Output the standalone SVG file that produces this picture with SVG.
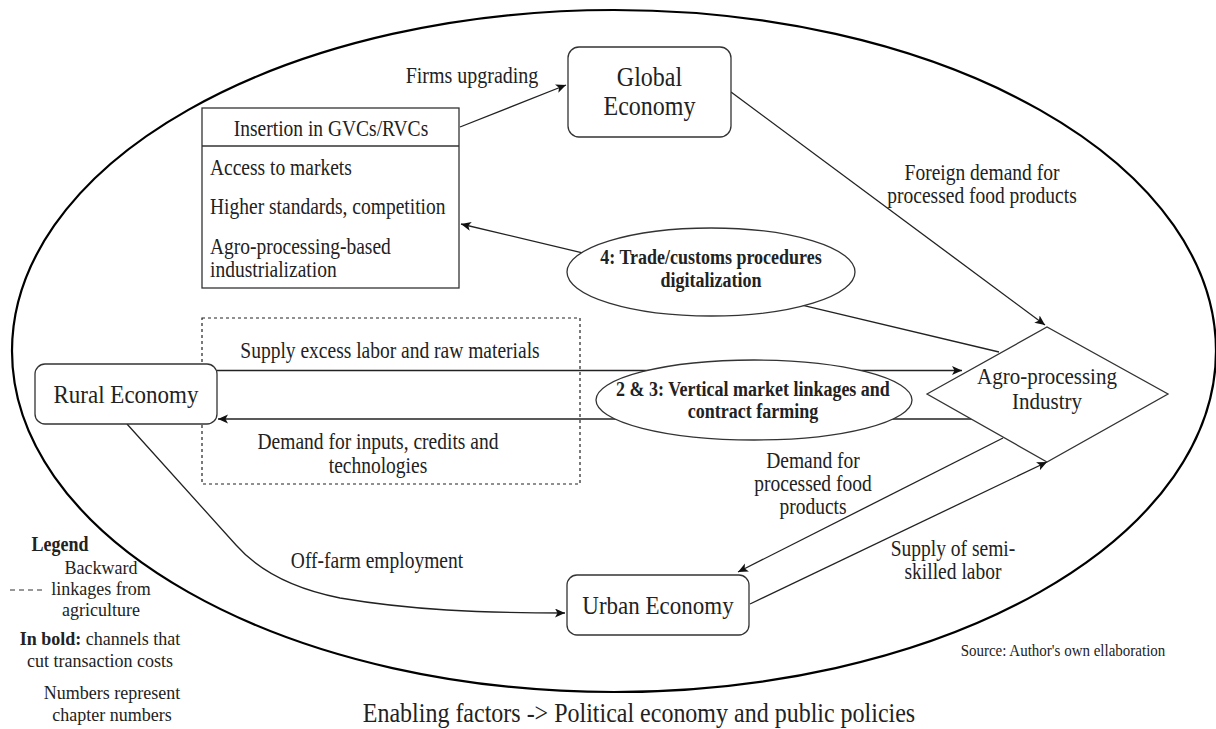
<svg xmlns="http://www.w3.org/2000/svg" width="1216" height="729" viewBox="0 0 1216 729">
<defs>
<marker id="arr" markerUnits="userSpaceOnUse" markerWidth="12" markerHeight="10" refX="10" refY="4.5" orient="auto">
<path d="M0,0 L10,4.5 L0,9 L2.5,4.5 Z" fill="#111"/>
</marker>
<style>
text{font-family:"Liberation Serif","Times New Roman",serif;fill:#222;transform-box:fill-box;transform-origin:50% 55%;transform:scaleY(1.13);}
.t{font-size:19.5px;}
.c{text-anchor:middle;}
.b{font-weight:bold;font-size:18px;}
.node{fill:#fff;stroke:#333;stroke-width:1.3;}
.ln{fill:none;stroke:#222;stroke-width:1.3;}
.la{fill:none;stroke:#222;stroke-width:1.3;marker-end:url(#arr);}
.lg{font-size:18px;transform:scaleY(1.08);}
</style>
</defs>
<rect width="1216" height="729" fill="#fff"/>
<g id="outer">
<ellipse cx="614" cy="351" rx="602" ry="341" fill="none" stroke="#000" stroke-width="2.2"/>
</g>
<g id="backward-linkages">
<rect x="202" y="318" width="378" height="166" fill="none" stroke="#222" stroke-width="1.2" stroke-dasharray="3,3"/>
</g>
<g id="connectors">
<path class="la" d="M460,127 L566,85"/>
<path class="la" d="M731,92 L1045,325"/>
<path class="la" d="M999,352 L461,224"/>
<path class="la" d="M217,370.5 L962,370.5"/>
<path class="la" d="M972,419 L218,419"/>
<path class="la" d="M127,424 L236,545 C258,570 290,588 340,598 C410,610 480,613 565,613"/>
<path class="la" d="M1003,438 L738,572"/>
<path class="la" d="M750,604 L1047,462"/>
</g>
<g id="labels">
<text class="c" x="472" y="82" style="font-size:20px">Firms upgrading</text>
<text class="t c" x="982" y="179">Foreign demand for</text>
<text class="t c" x="982" y="202">processed food products</text>
<text class="t c" x="390" y="357">Supply excess labor and raw materials</text>
<text class="t c" x="378" y="448">Demand for inputs, credits and</text>
<text class="t c" x="378" y="472">technologies</text>
<text class="t c" x="813" y="467">Demand for</text>
<text class="t c" x="813" y="490">processed food</text>
<text class="t c" x="813" y="513">products</text>
<text class="t c" x="953" y="555">Supply of semi-</text>
<text class="t c" x="953" y="578">skilled labor</text>
<text class="t c" x="377" y="567">Off-farm employment</text>
</g>
<g id="global-economy">
<rect class="node" x="568" y="47" width="163" height="90" rx="11"/>
<text class="c" x="649.5" y="85" style="font-size:24px">Global</text>
<text class="c" x="649.5" y="114" style="font-size:24px">Economy</text>
</g>
<g id="insertion">
<rect class="node" x="202" y="108" width="257" height="180"/>
<line x1="202" y1="146" x2="459" y2="146" stroke="#333" stroke-width="1.3"/>
<text class="t c" x="331" y="135">Insertion in GVCs/RVCs</text>
<text class="t" x="210" y="174">Access to markets</text>
<text class="t" x="210" y="213">Higher standards, competition</text>
<text class="t" x="210" y="253">Agro-processing-based</text>
<text class="t" x="210" y="276">industrialization</text>
</g>
<g id="trade-digitalization">
<ellipse class="node" cx="711" cy="272" rx="144" ry="44"/>
<text class="b c" x="711" y="263">4: Trade/customs procedures</text>
<text class="b c" x="711" y="286">digitalization</text>
</g>
<g id="rural-economy">
<rect class="node" x="35" y="364" width="182" height="60" rx="10"/>
<text class="c" x="126" y="402" style="font-size:23px">Rural Economy</text>
</g>
<g id="vertical-linkages">
<ellipse class="node" cx="754" cy="400" rx="158" ry="40"/>
<text class="b c" x="753" y="395">2 &amp; 3: Vertical market linkages and</text>
<text class="b c" x="753" y="417">contract farming</text>
</g>
<g id="agro-processing">
<path class="node" d="M927,394 L1047,327 L1168,394 L1047,462 Z"/>
<text class="c" x="1047" y="383" style="font-size:21px">Agro-processing</text>
<text class="c" x="1047" y="408" style="font-size:21px">Industry</text>
</g>
<g id="urban-economy">
<rect class="node" x="567" y="575" width="182" height="60" rx="10"/>
<text class="c" x="658" y="613" style="font-size:23px">Urban Economy</text>
</g>
<g id="legend">
<text class="b c" x="60" y="550">Legend</text>
<text class="lg c" x="101" y="574">Backward</text>
<line x1="10" y1="590" x2="43" y2="590" stroke="#333" stroke-width="1.2" stroke-dasharray="5,4"/>
<text class="lg c" x="101" y="595">linkages from</text>
<text class="lg c" x="101" y="616">agriculture</text>
<text class="lg c" x="100" y="645"><tspan font-weight="bold">In bold:</tspan> channels that</text>
<text class="lg c" x="100" y="667">cut transaction costs</text>
<text class="lg c" x="112" y="699">Numbers represent</text>
<text class="lg c" x="112" y="721">chapter numbers</text>
</g>
<g id="notes">
<text class="c" x="1063" y="655" style="font-size:15px">Source: Author's own ellaboration</text>
<text class="c" x="639" y="721" style="font-size:24px">Enabling factors -&gt; Political economy and public policies</text>
</g>
</svg>
